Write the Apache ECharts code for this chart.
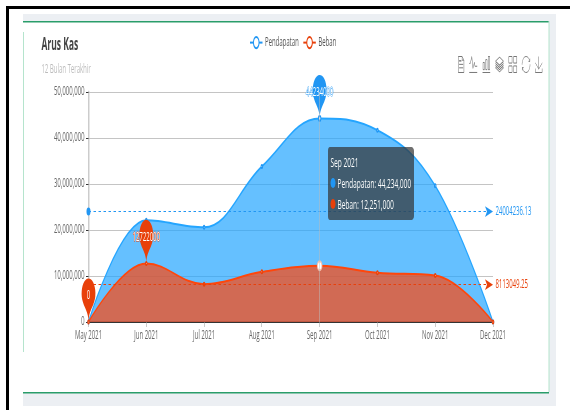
<!DOCTYPE html>
<html><head><meta charset="utf-8">
<style>
html,body{margin:0;padding:0;width:570px;height:410px;overflow:hidden;background:#fff}
#chart{width:1140px;height:410px;transform:scaleX(.5);transform-origin:0 0}
</style>
<script src="https://cdn.jsdelivr.net/npm/echarts@6/dist/echarts.min.js"></script>
</head><body><div id="chart"></div>
<script>
const categories=['May 2021','Jun 2021','Jul 2021','Aug 2021','Sep 2021','Oct 2021','Nov 2021','Dec 2021'];
const pendapatan=[0,22099889,20600000,33800000,44234000,41700000,29600000,0];
const beban=[0,12722000,8231394,10900000,12251000,10700000,10100000,0];
const blue='#2196F3', red='#E8400A', font='"Open Sans",sans-serif';
const chart=echarts.init(document.getElementById('chart'),null,{renderer:'canvas'});
const rect=(x,y,w,h,fill)=>({type:'rect',silent:true,z:-1,shape:{x,y,width:w,height:h},style:{fill}});
const tile='path://M2.3,2.2h22.8V25H2.3V2.2z M35,2.2h22.8V25H35V2.2zM2.3,35h22.8v22.8H2.3V35z M35,35h22.8v22.8H35V35z';
chart.setOption({
  animation:false,
  textStyle:{fontFamily:font},
  graphic:[
    rect(12,6,1128,3,'#000'),rect(12,6,6,404,'#000'),
    rect(46,14,1066,7,'#eceff3'),rect(46,21,1052,1.5,'#2a9d6a'),
    rect(46,393,1066,13,'#eceff3'),rect(46,392,1052,1.5,'#2a9d6a'),
    rect(1098,14,14,392,'#eceff3'),rect(1097,21,2,371,'#b5e4cd'),
    rect(46,32,2,320,'#b5e4cd')
  ],
  title:{text:'Arus Kas',subtext:'12 Bulan Terakhir',left:78,top:32,
    textStyle:{fontSize:17,fontWeight:'bold',color:'#444',fontFamily:font},
    subtextStyle:{fontSize:12,color:'#bbb',fontFamily:font},itemGap:10},
  legend:{left:494,top:31,data:['Pendapatan','Beban'],textStyle:{color:'#555',fontSize:12}},
  toolbox:{right:38,top:39,itemSize:16,itemGap:5.6,iconStyle:{borderColor:'#777'},
    feature:{
      dataView:{show:true,title:' '},
      magicType:{show:true,type:['line','bar','stack'],title:{line:' ',bar:' ',stack:' '}},
      myTile:{show:true,title:' ',icon:tile,onclick(){}},
      restore:{show:true,title:' '},
      saveAsImage:{show:true,title:' '}
    }},
  tooltip:{trigger:'axis',alwaysShowContent:true,position:[656,147],
    backgroundColor:'rgba(50,50,50,0.7)',borderWidth:0,padding:5,
    textStyle:{color:'#fff',fontSize:13.1,lineHeight:21,fontFamily:font},extraCssText:'box-shadow:none;border-radius:4px;line-height:21px;',
    axisPointer:{type:'line',lineStyle:{color:'#bbb',width:1,type:'solid'}},
    formatter(ps){return ps[0].axisValue+ps.map(p=>'<br/>'+p.marker+p.seriesName+': '+p.value.toLocaleString('en-US')).join('');}
  },
  grid:{left:177,right:154,top:92,bottom:88},
  xAxis:{type:'category',boundaryGap:false,data:categories,
    axisLine:{lineStyle:{color:'#333',width:2}},axisTick:{show:true,lineStyle:{color:'#999'}},
    axisLabel:{color:'#666',fontSize:12,margin:8}},
  yAxis:{type:'value',min:0,max:50000000,interval:10000000,
    axisLine:{show:true,lineStyle:{color:'#ccc',width:3}},axisTick:{show:true,lineStyle:{color:'#333'}},
    axisLabel:{color:'#666',fontSize:12,formatter:v=>v.toLocaleString('en-US')},
    splitLine:{lineStyle:{color:'#c4c4c4'}}},
  series:[
    {name:'Pendapatan',type:'line',smooth:0.4,data:pendapatan,symbol:'emptyCircle',symbolSize:3,
      itemStyle:{color:blue,borderWidth:1,borderColor:'#bfe0fb'},lineStyle:{width:2,color:blue},areaStyle:{color:blue,opacity:.7},
      emphasis:{scale:1.6},
      markPoint:{symbolSize:[46,50],data:[{type:'max'}],label:{color:'#fff',fontSize:12,textBorderColor:blue,textBorderWidth:1}},
      markLine:{symbol:['circle','arrow'],precision:2,lineStyle:{type:[5,5],width:1,color:blue},
        label:{position:'end',color:blue,fontSize:12},data:[{type:'average'}]}},
    {name:'Beban',type:'line',smooth:0.4,data:beban,symbol:'emptyCircle',symbolSize:3,
      itemStyle:{color:red,borderWidth:1,borderColor:'#f5c0ae'},lineStyle:{width:2,color:red},areaStyle:{color:red,opacity:.7},
      emphasis:{scale:3,itemStyle:{color:'#fff',borderColor:'#f5c0ae'}},
      markPoint:{symbolSize:[46,50],data:[{type:'max'},{type:'min'}],label:{color:'#fff',fontSize:12,textBorderColor:red,textBorderWidth:1}},
      markLine:{symbol:['circle','arrow'],precision:2,lineStyle:{type:[5,5],width:1,color:red},
        label:{position:'end',color:red,fontSize:12},data:[{type:'average'}]}}
  ]
});
chart.dispatchAction({type:'showTip',seriesIndex:0,dataIndex:4});
</script></body></html>
